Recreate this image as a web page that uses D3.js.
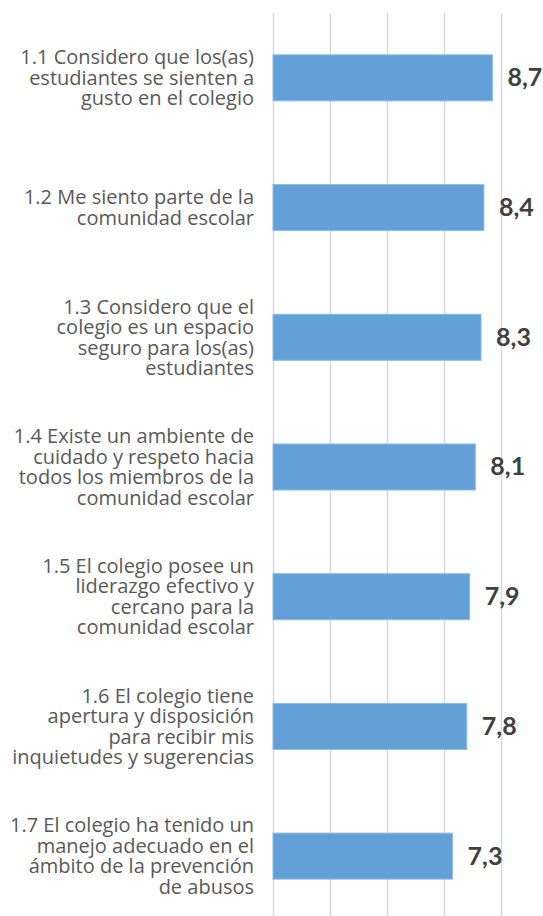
<!DOCTYPE html>
<html>
<head>
<meta charset="utf-8">
<script src="https://cdn.jsdelivr.net/npm/d3@7"></script>
<style>
  body { margin: 0; background: #fff; }
  .cat { font-family: "Open Sans", sans-serif; font-size: 20px; fill: #595959; }
  .val { font-family: Lato, sans-serif; font-weight: 700; font-size: 25px; fill: #404040; }
  .grid line { stroke: #d9d9d9; stroke-width: 1.5px; }
  .grid .domain { display: none; }
</style>
</head>
<body>
<div class="svg-chart"></div>
<script>
const categories = [
  "1.1 Considero que los(as)\nestudiantes se sienten a\ngusto en el colegio",
  "1.2 Me siento parte de la\ncomunidad escolar",
  "1.3 Considero que el\ncolegio es un espacio\nseguro para los(as)\nestudiantes",
  "1.4 Existe un ambiente de\ncuidado y respeto hacia\ntodos los miembros de la\ncomunidad escolar",
  "1.5 El colegio posee un\nliderazgo efectivo y\ncercano para la\ncomunidad escolar",
  "1.6 El colegio tiene\napertura y disposición\npara recibir mis\ninquietudes y sugerencias",
  "1.7 El colegio ha tenido un\nmanejo adecuado en el\námbito de la prevención\nde abusos",
];
const values = [8.7, 8.4, 8.3, 8.1, 7.9, 7.8, 7.3];
const gridTicks = [1, 3, 5, 7, 9];

const width = 543;
const height = 916;
const margin = { top: 13, left: 273, right: 42 };
const plotBottom = 921;

const svg = d3.select(".svg-chart").append("svg")
  .attr("width", width)
  .attr("height", height);

const xScale = d3.scaleLinear()
  .domain([1, 9])
  .range([margin.left, width - margin.right]);

const yScale = d3.scaleBand()
  .domain(categories)
  .range([margin.top, plotBottom])
  .paddingInner(0.645)
  .paddingOuter(0.3225);

// vertical gridlines
svg.append("g")
  .attr("class", "grid")
  .attr("transform", `translate(0,${plotBottom})`)
  .call(d3.axisBottom(xScale)
    .tickValues(gridTicks)
    .tickSize(-(plotBottom - margin.top))
    .tickFormat(""));

const data = categories.map((c, i) => ({ cat: c, value: values[i] }));

svg.selectAll("rect.bar")
  .data(data)
  .enter()
  .append("rect")
  .attr("class", "bar")
  .attr("x", xScale(1))
  .attr("y", (d) => yScale(d.cat))
  .attr("width", (d) => xScale(d.value) - xScale(1))
  .attr("height", yScale.bandwidth())
  .attr("fill", "#62a0d7")
  .attr("stroke", "#8dbde6")
  .attr("stroke-width", 1);

// value labels
svg.selectAll("text.val")
  .data(data)
  .enter()
  .append("text")
  .attr("class", "val")
  .attr("x", (d) => xScale(d.value) + 15)
  .attr("y", (d) => yScale(d.cat) + yScale.bandwidth() / 2 + 2)
  .attr("dominant-baseline", "middle")
  .text((d) => d.value.toFixed(1).replace(".", ","));

// category labels, right aligned and centred on the bar
const lineH = 20.5;
const labels = svg.selectAll("text.cat")
  .data(data)
  .enter()
  .append("text")
  .attr("class", "cat")
  .attr("text-anchor", "end")
  .attr("transform", (d) => {
    const n = d.cat.split("\n").length;
    const cy = yScale(d.cat) + yScale.bandwidth() / 2;
    return `translate(254,${cy - ((n - 1) * lineH) / 2 + 7})`;
  });

labels.selectAll("tspan")
  .data((d) => d.cat.split("\n"))
  .enter()
  .append("tspan")
  .attr("x", 0)
  .attr("dy", (d, i) => (i === 0 ? 0 : lineH))
  .text((d) => d);
</script>
</body>
</html>
